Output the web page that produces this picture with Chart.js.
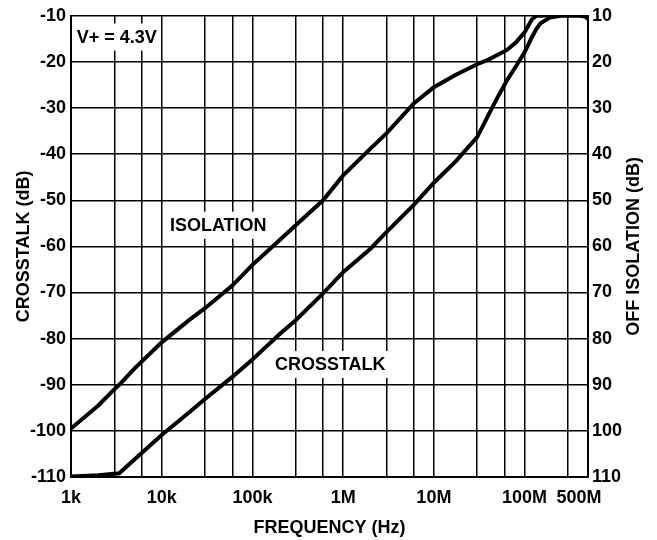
<!DOCTYPE html>
<html>
<head>
<meta charset="utf-8">
<script src="https://cdn.jsdelivr.net/npm/chart.js@4.4.1/dist/chart.umd.min.js"></script>
<style>
  html, body { margin: 0; padding: 0; background: #fff; }
  #wrap { width: 657px; height: 540px; }
</style>
</head>
<body>
<div id="wrap"><canvas id="chart" width="657" height="540"></canvas></div>
<script>
// frequency points (Hz)
const freqHz = [1e3, 2e3, 3e3, 3.4e3, 5e3, 1e4, 2e4, 3e4, 6e4, 1e5, 2e5, 3e5, 6e5, 1e6, 2e6, 3e6, 6e6,
  1e7, 1.75e7, 3e7, 4e7, 5e7, 6.4e7, 8e7, 1e8, 1.2e8, 1.35e8, 1.5e8, 1.9e8, 2.5e8, 3e8, 4e8, 4.7e8, 5e8];

const isolationDb = [-99.5, -94.5, -91, -90, -86.5, -80.8, -76, -73.4, -68.5, -64, -58.6, -55.4, -50, -44.6, -38.8, -35.5, -29,
  -25.5, -22.8, -20.5, -19.5, -18.5, -17.4, -15.8, -13.6, -10.8, -10, -10, -9.9, -9.8, -9.8, -9.9, -10.2, -10.7];

const crosstalkDb = [-109.9, -109.6, -109.3, -109.2, -106.2, -100.9, -96, -93.1, -88.3, -84.5, -79, -76, -70.2, -65.6, -60.5, -56.9, -51,
  -46.2, -41.5, -36.3, -31.5, -27.8, -24, -21, -17.9, -14.7, -12.8, -11.6, -10.4, -10, -10, -10, -10, -10];

// vertical grid lines and the labelled ones
const gridFreqs = [1e3, 3e3, 6e3, 1e4, 3e4, 6e4, 1e5, 3e5, 6e5, 1e6, 3e6, 6e6, 1e7, 3e7, 6e7, 1e8, 3e8, 5e8];
const xTickFreqs = [1e3, 1e4, 1e5, 1e6, 1e7, 1e8, 5e8];
const xTickLabels = ['1k', '10k', '100k', '1M', '10M', '100M', '500M'];

// text notes inside the plot: [text, freq, dB]
const notes = [
  ['V+ = 4.3V', 3.2e3, -14.5],
  ['ISOLATION', 4.2e4, -55.3],
  ['CROSSTALK', 7.2e5, -85.5]
];

const FONT = 'bold 18px "Liberation Sans", Arial, sans-serif';
Chart.defaults.font.family = '"Liberation Sans", Arial, sans-serif';
Chart.defaults.font.size = 18;
Chart.defaults.font.weight = 'bold';
Chart.defaults.color = '#000';

function toPoints(vals) {
  return freqHz.map((f, i) => ({ x: f, y: vals[i] }));
}

const annotate = {
  id: 'annotate',
  beforeDatasetsDraw(chart) {
    const ctx = chart.ctx;
    const x = chart.scales.x, y = chart.scales.y;
    ctx.save();
    ctx.font = FONT;
    ctx.textAlign = 'center';
    ctx.textBaseline = 'middle';
    notes.forEach(n => {
      const px = x.getPixelForValue(n[1]);
      const py = y.getPixelForValue(n[2]);
      const w = ctx.measureText(n[0]).width;
      ctx.fillStyle = '#fff';
      ctx.fillRect(px - w / 2 - 4, py - 13, w + 8, 27);
      ctx.fillStyle = '#000';
      ctx.fillText(n[0], px, py + 1);
    });
    ctx.restore();
  },
  afterDraw(chart) {
    const ctx = chart.ctx;
    const area = chart.chartArea;
    const x = chart.scales.x;
    ctx.save();
    ctx.font = FONT;
    ctx.fillStyle = '#000';
    ctx.textAlign = 'center';
    ctx.textBaseline = 'middle';
    // frequency labels, last one pulled in from the edge
    xTickFreqs.forEach((f, i) => {
      let px = x.getPixelForValue(f);
      if (i === xTickFreqs.length - 1) px -= 9;
      ctx.fillText(xTickLabels[i], px, area.bottom + 21);
    });
    ctx.fillText('FREQUENCY (Hz)', (area.left + area.right) / 2, area.bottom + 51);
    const midY = (area.top + area.bottom) / 2;
    ctx.save();
    ctx.translate(24, midY);
    ctx.rotate(-Math.PI / 2);
    ctx.fillText('CROSSTALK (dB)', 0, 0);
    ctx.restore();
    ctx.save();
    ctx.translate(634, midY);
    ctx.rotate(-Math.PI / 2);
    ctx.fillText('OFF ISOLATION (dB)', 0, 0);
    ctx.restore();
    ctx.restore();
  }
};

const lineStyle = {
  borderColor: '#000',
  borderWidth: 4,
  pointRadius: 0,
  tension: 0,
  fill: false
};

new Chart(document.getElementById('chart'), {
  type: 'line',
  data: {
    datasets: [
      Object.assign({ label: 'ISOLATION', data: toPoints(isolationDb) }, lineStyle),
      Object.assign({ label: 'CROSSTALK', data: toPoints(crosstalkDb) }, lineStyle)
    ]
  },
  options: {
    responsive: false,
    animation: false,
    devicePixelRatio: 1,
    layout: { padding: { top: 15 } },
    plugins: { legend: { display: false }, tooltip: { enabled: false } },
    scales: {
      x: {
        type: 'logarithmic',
        min: 1e3,
        max: 5e8,
        afterBuildTicks: (scale) => { scale.ticks = gridFreqs.map(v => ({ value: v })); },
        ticks: { display: false },
        grid: { color: '#000', lineWidth: 1.5, drawTicks: false },
        border: { color: '#000', width: 2 },
        afterFit: (scale) => { scale.height = 63; }
      },
      y: {
        position: 'left',
        min: -110,
        max: -10,
        ticks: { stepSize: 10, padding: 5 },
        grid: { color: '#000', lineWidth: 1.5, drawTicks: false },
        border: { color: '#000', width: 2 },
        afterFit: (scale) => { scale.width = 71; }
      },
      y2: {
        position: 'right',
        min: 10,
        max: 110,
        reverse: true,
        ticks: { stepSize: 10, padding: 4 },
        grid: { drawOnChartArea: false, drawTicks: false },
        border: { color: '#000', width: 2 },
        afterFit: (scale) => { scale.width = 69; }
      }
    }
  },
  plugins: [annotate]
});
</script>
</body>
</html>
